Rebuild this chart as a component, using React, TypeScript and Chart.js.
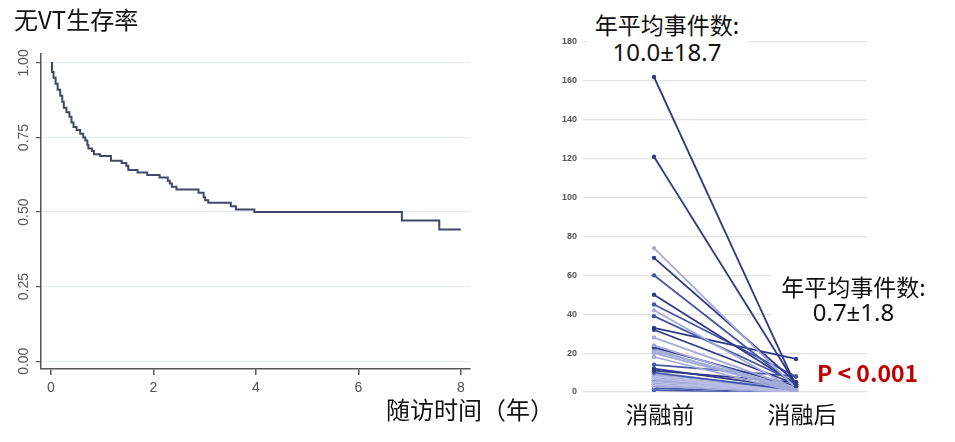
import React, { useEffect, useRef } from 'react';
import { Chart, registerables } from 'chart.js';

Chart.register(...registerables);

// Kaplan-Meier: VT-free survival over follow-up years
const kmTimes = [
  0, 0.02, 0.05, 0.09, 0.13, 0.18, 0.22, 0.25, 0.3, 0.36, 0.4, 0.44, 0.5, 0.57,
  0.63, 0.67, 0.71, 0.73, 0.8, 0.84, 0.96, 1.17, 1.38, 1.47, 1.51, 1.69, 1.88,
  2.12, 2.28, 2.32, 2.36, 2.45, 2.88, 2.98, 3.01, 3.07, 3.51, 3.61, 3.97, 6.85,
  7.58, 8.0,
];
const kmSurvival = [
  1.0, 0.97, 0.95, 0.93, 0.91, 0.89, 0.87, 0.85, 0.835, 0.82, 0.8, 0.785, 0.775,
  0.763, 0.75, 0.74, 0.725, 0.713, 0.705, 0.694, 0.688, 0.672, 0.665, 0.655,
  0.641, 0.633, 0.624, 0.616, 0.605, 0.596, 0.585, 0.576, 0.565, 0.55, 0.54,
  0.531, 0.52, 0.509, 0.5, 0.472, 0.442, 0.442,
];
const kmXTicks = [0, 2, 4, 6, 8];
const kmYTicks = [0, 0.25, 0.5, 0.75, 1];

// annual VT events per patient, before / after ablation
const groups = ['消融前', '消融后'];
const eventsBefore = [
  162, 121, 74, 69, 60, 50, 45, 42, 39, 33, 32, 28, 24, 23, 22, 21, 20, 18, 14,
  12, 11, 10, 9, 8, 8, 7, 7, 6, 6, 6, 5, 5, 5, 4, 4, 4, 4, 3, 3, 3, 3, 2, 2, 2,
  2, 2, 1, 1, 1, 1,
];
const eventsAfter = [
  3, 4, 2, 5, 3, 4, 8, 1, 5, 17, 4, 2, 1, 3, 0, 2, 1, 0, 8, 2, 5, 1, 2, 0, 1, 0,
  2, 1, 0, 1, 0, 1, 0, 0, 1, 0, 0, 0, 1, 0, 0, 0, 1, 0, 0, 0, 0, 0, 0, 0,
];
const eventYTicks = [0, 20, 40, 60, 80, 100, 120, 140, 160, 180];

// line shades (style only)
const DARK = '#2f3a86';
const MID = '#4657a8';
const LIGHT = '#a3abda';
const PALE = '#b9bfe3';
const topShades = [
  DARK, DARK, LIGHT, DARK, MID, DARK, MID, LIGHT, MID, DARK, DARK, LIGHT, LIGHT,
  DARK, LIGHT, LIGHT, LIGHT, LIGHT, MID, DARK, DARK,
];
const lowShades = [PALE, MID, LIGHT, PALE, LIGHT];
const shadeFor = (i: number) =>
  i < topShades.length ? topShades[i] : lowShades[i % lowShades.length];

const CJK = '"Noto Sans CJK SC", "Noto Sans", sans-serif';
const NUM = '"Noto Sans", "Noto Sans CJK SC", sans-serif';

const KMChart: React.FC = () => {
  const chartRef = useRef<HTMLCanvasElement | null>(null);

  useEffect(() => {
    const ctx = chartRef.current?.getContext('2d');
    if (!ctx) return;

    const chart = new Chart(ctx, {
      type: 'line',
      data: {
        datasets: [
          {
            data: kmTimes.map((t, i) => ({ x: t, y: kmSurvival[i] })),
            stepped: 'before',
            borderColor: '#3f4969',
            borderWidth: 2,
            pointRadius: 0,
            fill: false,
          },
        ],
      },
      options: {
        animation: false,
        responsive: true,
        maintainAspectRatio: false,
        layout: { padding: { left: 0, top: 54, right: 10, bottom: 43 } },
        plugins: { legend: { display: false }, tooltip: { enabled: false } },
        scales: {
          x: {
            type: 'linear',
            min: -0.195,
            max: 8.18,
            afterBuildTicks: (scale: any) => {
              scale.ticks = kmXTicks.map((v) => ({ value: v }));
            },
            afterFit: (scale: any) => {
              scale.height = 30;
            },
            grid: { drawOnChartArea: false, tickLength: 6, tickColor: '#555', lineWidth: 1.5 },
            border: { display: true, color: '#555', width: 1.5 },
            ticks: {
              padding: 5,
              color: '#555',
              font: { family: '"Liberation Sans", Arial, sans-serif', size: 14 },
            },
          },
          y: {
            type: 'linear',
            min: -0.026,
            max: 1.03,
            afterBuildTicks: (scale: any) => {
              scale.ticks = kmYTicks.map((v) => ({ value: v }));
            },
            afterFit: (scale: any) => {
              scale.width = 41;
            },
            grid: { color: '#e3ecf0', lineWidth: 1.2, tickLength: 5, tickColor: '#555' },
            border: { display: true, color: '#555', width: 1.5 },
            ticks: {
              minRotation: 90,
              maxRotation: 90,
              crossAlign: 'center',
              padding: -2,
              color: '#555',
              font: { family: '"Liberation Sans", Arial, sans-serif', size: 14 },
              callback: (v: any) => Number(v).toFixed(2),
            },
          },
        },
      },
    });

    return () => chart.destroy();
  }, []);

  return (
    <div style={{ position: 'absolute', left: 0, top: 0, width: 480, height: 442 }}>
      <canvas ref={chartRef} />
    </div>
  );
};

const EventsChart: React.FC = () => {
  const chartRef = useRef<HTMLCanvasElement | null>(null);

  useEffect(() => {
    const ctx = chartRef.current?.getContext('2d');
    if (!ctx) return;

    const chart = new Chart(ctx, {
      type: 'line',
      data: {
        labels: groups,
        datasets: eventsBefore.map((b, i) => ({
          data: [b, eventsAfter[i]],
          borderColor: shadeFor(i),
          backgroundColor: shadeFor(i),
          borderWidth: 1.8,
          pointRadius: 2.2,
          pointBorderWidth: 0,
          fill: false,
        })),
      },
      options: {
        animation: false,
        responsive: true,
        maintainAspectRatio: false,
        layout: { padding: { left: 0, top: 42, right: 88, bottom: 0 } },
        plugins: { legend: { display: false }, tooltip: { enabled: false } },
        scales: {
          x: {
            type: 'category',
            offset: true,
            afterFit: (scale: any) => {
              scale.height = 50;
            },
            grid: { display: false },
            border: { display: false },
            ticks: {
              padding: 0,
              labelOffset: 6,
              color: '#111',
              font: { family: CJK, size: 23 },
            },
          },
          y: {
            min: 0,
            max: 180,
            afterBuildTicks: (scale: any) => {
              scale.ticks = eventYTicks.map((v) => ({ value: v }));
            },
            afterFit: (scale: any) => {
              scale.width = 43;
            },
            grid: { color: '#e2e2e2', lineWidth: 1.2, drawTicks: false },
            border: { display: false },
            ticks: {
              padding: 6,
              color: '#555',
              font: { family: '"Liberation Sans", Arial, sans-serif', size: 9, weight: 'bold' },
            },
          },
        },
      },
    });

    return () => chart.destroy();
  }, []);

  return (
    <div style={{ position: 'absolute', left: 540, top: 0, width: 415, height: 442 }}>
      <canvas ref={chartRef} />
    </div>
  );
};

const textBase: React.CSSProperties = {
  position: 'absolute',
  fontFamily: CJK,
  color: '#111',
  whiteSpace: 'nowrap',
};

const App: React.FC = () => {
  return (
    <div
      style={{
        position: 'fixed',
        left: 0,
        top: 0,
        width: 955,
        height: 442,
        background: '#fff',
        overflow: 'hidden',
      }}
    >
      <KMChart />
      <EventsChart />
      <div style={{ ...textBase, left: 14, top: 7, fontSize: 24, lineHeight: '24px' }}>无VT生存率</div>
      <div style={{ ...textBase, left: 386, top: 397, fontSize: 24, lineHeight: '24px' }}>随访时间（年）</div>
      <div
        style={{
          ...textBase,
          left: 587,
          top: 7,
          width: 160,
          paddingTop: 4,
          paddingBottom: 4,
          textAlign: 'center',
          fontSize: 23,
          lineHeight: '27px',
          background: '#fff',
        }}
      >
        <div>年平均事件数:</div>
        <div style={{ fontFamily: NUM, fontSize: 24 }}>10.0±18.7</div>
      </div>
      <div
        style={{
          ...textBase,
          left: 771,
          top: 267,
          width: 165,
          paddingTop: 6,
          paddingBottom: 2,
          textAlign: 'center',
          fontSize: 23,
          lineHeight: '26px',
          background: '#fff',
        }}
      >
        <div>年平均事件数:</div>
        <div style={{ fontFamily: NUM, fontSize: 24 }}>0.7±1.8</div>
      </div>
      <div
        style={{
          ...textBase,
          left: 817,
          top: 359,
          fontSize: 23,
          lineHeight: '27px',
          fontWeight: 'bold',
          color: '#c00000',
        }}
      >
        P &lt; 0.001
      </div>
    </div>
  );
};

export default App;
